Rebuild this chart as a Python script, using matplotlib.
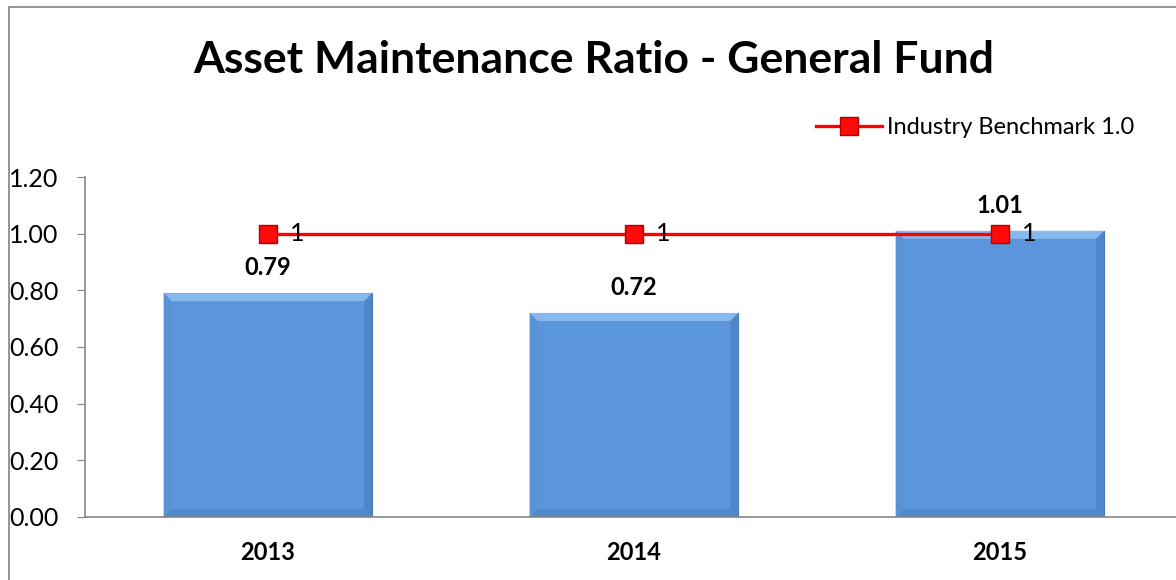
import matplotlib
matplotlib.use("Agg")
import matplotlib.pyplot as plt
from matplotlib.patches import Polygon
from matplotlib.lines import Line2D
import numpy as np

years = ["2013", "2014", "2015"]
ratio = [0.79, 0.72, 1.01]
benchmark = [1, 1, 1]
yticks = [0.0, 0.2, 0.4, 0.6, 0.8, 1.0, 1.2]
title = "Asset Maintenance Ratio - General Fund"
legend_label = "Industry Benchmark 1.0"

W, H = 1176, 580
fig = plt.figure(figsize=(W / 100, H / 100), dpi=100)
plt.rcParams['font.family'] = ['Lato', 'DejaVu Sans']

# outer frame (left and top visible)
fig.add_artist(Line2D([9 / W, 9 / W], [0, 1 - 7 / H], color="#8c8c8c", lw=1.3))
fig.add_artist(Line2D([9 / W, 1], [1 - 7 / H, 1 - 7 / H], color="#8c8c8c", lw=1.3))

left, right = 85, 1183
top, bottom = 177, 517
ax = fig.add_axes([left / W, (H - bottom) / H, (right - left) / W, (bottom - top) / H])
ax.set_facecolor("none")

x = np.arange(len(years))
bars = ax.bar(x, ratio, width=0.57, color="#5B96DC", edgecolor="#4677B5", linewidth=0.8, zorder=2)
ax.set_xlim(-0.5, len(years) - 0.5)
ax.set_ylim(0, 1.2)
ax.set_yticks(yticks)
ax.set_yticklabels([f"{v:.2f}" for v in yticks], fontsize=18)
ax.set_xticks(x)
ax.set_xticklabels(years, fontsize=17, fontweight="bold")
ax.tick_params(axis="x", length=0, pad=17)
ax.tick_params(axis="y", length=6, color="#868686", pad=13, direction="out")
for s in ["top", "right"]:
    ax.spines[s].set_visible(False)
for s in ["left", "bottom"]:
    ax.spines[s].set_color("#868686")
    ax.spines[s].set_linewidth(1.2)

# bevel effect
fig.canvas.draw()
inv = ax.transData.inverted()
bev = 8
for b in bars:
    (x0, y0), (x1, y1) = ax.transData.transform([(b.get_x(), 0), (b.get_x() + b.get_width(), b.get_height())])
    pts_top = [(x0, y1), (x1, y1), (x1 - bev, y1 - bev), (x0 + bev, y1 - bev)]
    pts_right = [(x1, y1), (x1, y0), (x1 - bev, y0 + bev), (x1 - bev, y1 - bev)]
    pts_left = [(x0, y1), (x0, y0), (x0 + bev, y0 + bev), (x0 + bev, y1 - bev)]
    pts_bot = [(x0, y0), (x1, y0), (x1 - bev, y0 + bev), (x0 + bev, y0 + bev)]
    for pts, c in [(pts_top, "#86B9EE"), (pts_right, "#4F86C8"), (pts_left, "#5A92D6"), (pts_bot, "#5088CB")]:
        ax.add_patch(Polygon(inv.transform(pts), closed=True, facecolor=c, edgecolor="none", zorder=2.5))

# value labels
for xi, v in zip(x, ratio):
    ax.annotate(f"{v:.2f}", (xi, v), xytext=(0, 10), textcoords="offset points",
                ha="center", va="bottom", fontsize=17, fontweight="bold", zorder=5)

ax.plot(x, benchmark, color="#FF0000", lw=2.4, marker="s", markersize=13,
        markerfacecolor="#FF0A0A", markeredgecolor="#B00000", markeredgewidth=1.0,
        zorder=4, label=legend_label)
for xi, v in zip(x, benchmark):
    ax.annotate(f"{v:g}", (xi, v), xytext=(16, 0), textcoords="offset points",
                ha="left", va="center", fontsize=18, zorder=5)

leg = ax.legend(loc="center left", bbox_to_anchor=(816 / W, 1 - 128 / H), bbox_transform=fig.transFigure,
                frameon=False, fontsize=17, handlelength=2.8, handletextpad=0.2, borderpad=0, borderaxespad=0)

fig.text(594 / W, 1 - 60 / H, title, ha="center", va="center", fontsize=32, fontweight="bold")

fig.savefig("out.png", dpi=100)
